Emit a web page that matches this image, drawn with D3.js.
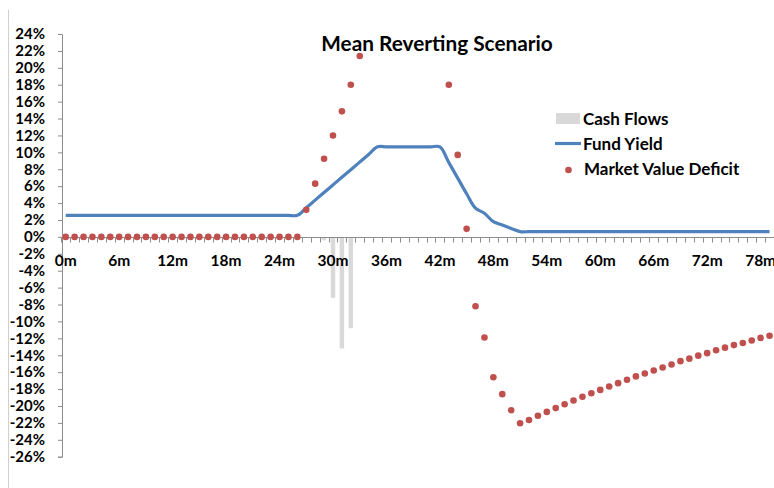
<!DOCTYPE html>
<html>
<head>
<meta charset="utf-8">
<script src="https://cdn.jsdelivr.net/npm/d3@7"></script>
<style>
  html, body { margin: 0; padding: 0; background: #fff; }
  svg { display: block; font-family: Lato, "Open Sans", sans-serif; font-weight: bold; }
</style>
</head>
<body>
<svg id="chart" width="774" height="488"></svg>
<script>
// ---- data ----
const months = [0,1,2,3,4,5,6,7,8,9,10,11,12,13,14,15,16,17,18,19,20,21,22,23,24,25,26,27,28,29,
  30,31,32,33,34,35,36,37,38,39,40,41,42,43,44,45,46,47,48,49,50,51,52,53,54,55,56,57,58,59,
  60,61,62,63,64,65,66,67,68,69,70,71,72,73,74,75,76,77,78,79];
const tickMonths = [0,6,12,18,24,30,36,42,48,54,60,66,72,78];
const yTicks = [24,22,20,18,16,14,12,10,8,6,4,2,0,-2,-4,-6,-8,-10,-12,-14,-16,-18,-20,-22,-24,-26];

// Fund Yield (%)
const fundYield = [
  2.55,2.55,2.55,2.55,2.55,2.55,2.55,2.55,2.55,2.55,
  2.55,2.55,2.55,2.55,2.55,2.55,2.55,2.55,2.55,2.55,
  2.55,2.55,2.55,2.55,2.55,2.55,2.55,3.45,4.35,5.25,
  6.15,7.05,7.95,8.85,9.75,10.65,10.65,10.65,10.65,10.65,
  10.65,10.65,10.65,8.8,6.95,5.1,3.4,2.8,1.8,1.4,
  1.0,0.62,0.62,0.62,0.62,0.62,0.62,0.62,0.62,0.62,
  0.62,0.62,0.62,0.62,0.62,0.62,0.62,0.62,0.62,0.62,
  0.62,0.62,0.62,0.62,0.62,0.62,0.62,0.62,0.62,0.62
];

// Market Value Deficit (%) — null where off the chart
const marketValueDeficit = [
  0,0,0,0,0,0,0,0,0,0,
  0,0,0,0,0,0,0,0,0,0,
  0,0,0,0,0,0,0,3.2,6.3,9.25,
  12.0,14.85,18.0,21.4,null,null,null,null,null,null,
  null,null,null,18.0,9.7,0.95,-8.2,-11.9,-16.6,-18.6,
  -20.5,-22.05,-21.65,-21.15,-20.7,-20.25,-19.8,-19.35,-18.9,-18.5,
  -18.1,-17.7,-17.3,-16.9,-16.5,-16.15,-15.8,-15.45,-15.1,-14.7,
  -14.4,-14.05,-13.75,-13.4,-13.1,-12.8,-12.55,-12.25,-11.95,-11.7
];

// Cash Flows (%)
const cashFlowMonths = [29,30,31,32];
const cashFlows = [-0.4,-7.2,-13.2,-10.8];

// ---- drawing ----
const svg = d3.select("#chart");
const W = 774, H = 488;

const x = d3.scaleBand().domain(months).range([61.25, 774]).paddingInner(0).paddingOuter(0);
const y = d3.scaleLinear().domain([-26, 24]).range([456.7, 34]);

const axisColor = "#8c8c8c";

// chart area left border
svg.append("line").attr("x1", 8.5).attr("x2", 8.5).attr("y1", 10).attr("y2", H)
  .attr("stroke", "#d0d0d0").attr("stroke-width", 1);

// clip
svg.append("defs").append("clipPath").attr("id", "plot")
  .append("rect").attr("x", 0).attr("y", 0).attr("width", W).attr("height", H);

// y axis
const yAxis = d3.axisLeft(y).tickValues(yTicks).tickSize(4).tickPadding(13)
  .tickFormat(d => d + "%");
const gy = svg.append("g").attr("transform", "translate(62,0)").call(yAxis);
gy.select(".domain").attr("stroke", axisColor);
gy.selectAll(".tick line").attr("stroke", axisColor);
gy.selectAll(".tick text").attr("fill", "#000").style("font-size", "15px")
  .style("font-family", "Lato, sans-serif").style("font-weight", "bold");

// cash flow bars
const bw = x.bandwidth() * 0.5;
svg.append("g").selectAll("rect").data(cashFlows).join("rect")
  .attr("x", (d, i) => x(cashFlowMonths[i]) + (x.bandwidth() - bw) / 2)
  .attr("width", bw)
  .attr("y", d => y(Math.max(0, d)))
  .attr("height", d => Math.abs(y(d) - y(0)))
  .attr("fill", "#d9d9d9");

// x axis (category axis at y=0)
const y0 = Math.round(y(0)) + 0.5;
svg.append("line").attr("x1", 61.25).attr("x2", 774).attr("y1", y0).attr("y2", y0)
  .attr("stroke", axisColor);
const boundaries = months.map(m => x(m)).concat([x(79) + x.bandwidth()]);
svg.append("g").selectAll("line").data(boundaries).join("line")
  .attr("x1", d => Math.round(d) + 0.5).attr("x2", d => Math.round(d) + 0.5)
  .attr("y1", y0).attr("y2", y0 + 5).attr("stroke", axisColor);
svg.append("g").selectAll("text").data(tickMonths).join("text")
  .attr("x", d => x(d) + x.bandwidth() / 2)
  .attr("y", 265.5)
  .attr("text-anchor", "middle")
  .style("font-size", "15.5px")
  .text(d => d + "m");

// fund yield line
const line = d3.line()
  .x((d, i) => x(months[i]) + x.bandwidth() / 2)
  .y(d => y(d))
  .curve(d3.curveCatmullRom.alpha(0.5));
svg.append("path").datum(fundYield)
  .attr("d", line)
  .attr("fill", "none")
  .attr("stroke", "#4f81bd")
  .attr("stroke-width", 3.2)
  .attr("clip-path", "url(#plot)");

// market value deficit dots
svg.append("g").attr("clip-path", "url(#plot)")
  .selectAll("circle")
  .data(marketValueDeficit.map((v, i) => ({ m: months[i], v })).filter(d => d.v !== null))
  .join("circle")
  .attr("cx", d => x(d.m) + x.bandwidth() / 2)
  .attr("cy", d => y(d.v))
  .attr("r", 3.3)
  .attr("fill", "#c0504d");

// title
svg.append("text").attr("x", 437).attr("y", 51).attr("text-anchor", "middle")
  .style("font-size", "20.8px").text("Mean Reverting Scenario");

// legend
const lg = svg.append("g").style("font-size", "17px");
lg.append("rect").attr("x", 556).attr("y", 113).attr("width", 24).attr("height", 11).attr("fill", "#d9d9d9");
lg.append("text").attr("x", 583).attr("y", 125).text("Cash Flows");
lg.append("line").attr("x1", 555).attr("x2", 581).attr("y1", 143.5).attr("y2", 143.5)
  .attr("stroke", "#4f81bd").attr("stroke-width", 3.2);
lg.append("text").attr("x", 583).attr("y", 149.5).text("Fund Yield");
lg.append("circle").attr("cx", 568.5).attr("cy", 170).attr("r", 3.3).attr("fill", "#c0504d");
lg.append("text").attr("x", 584).attr("y", 175).text("Market Value Deficit");
</script>
</body>
</html>
